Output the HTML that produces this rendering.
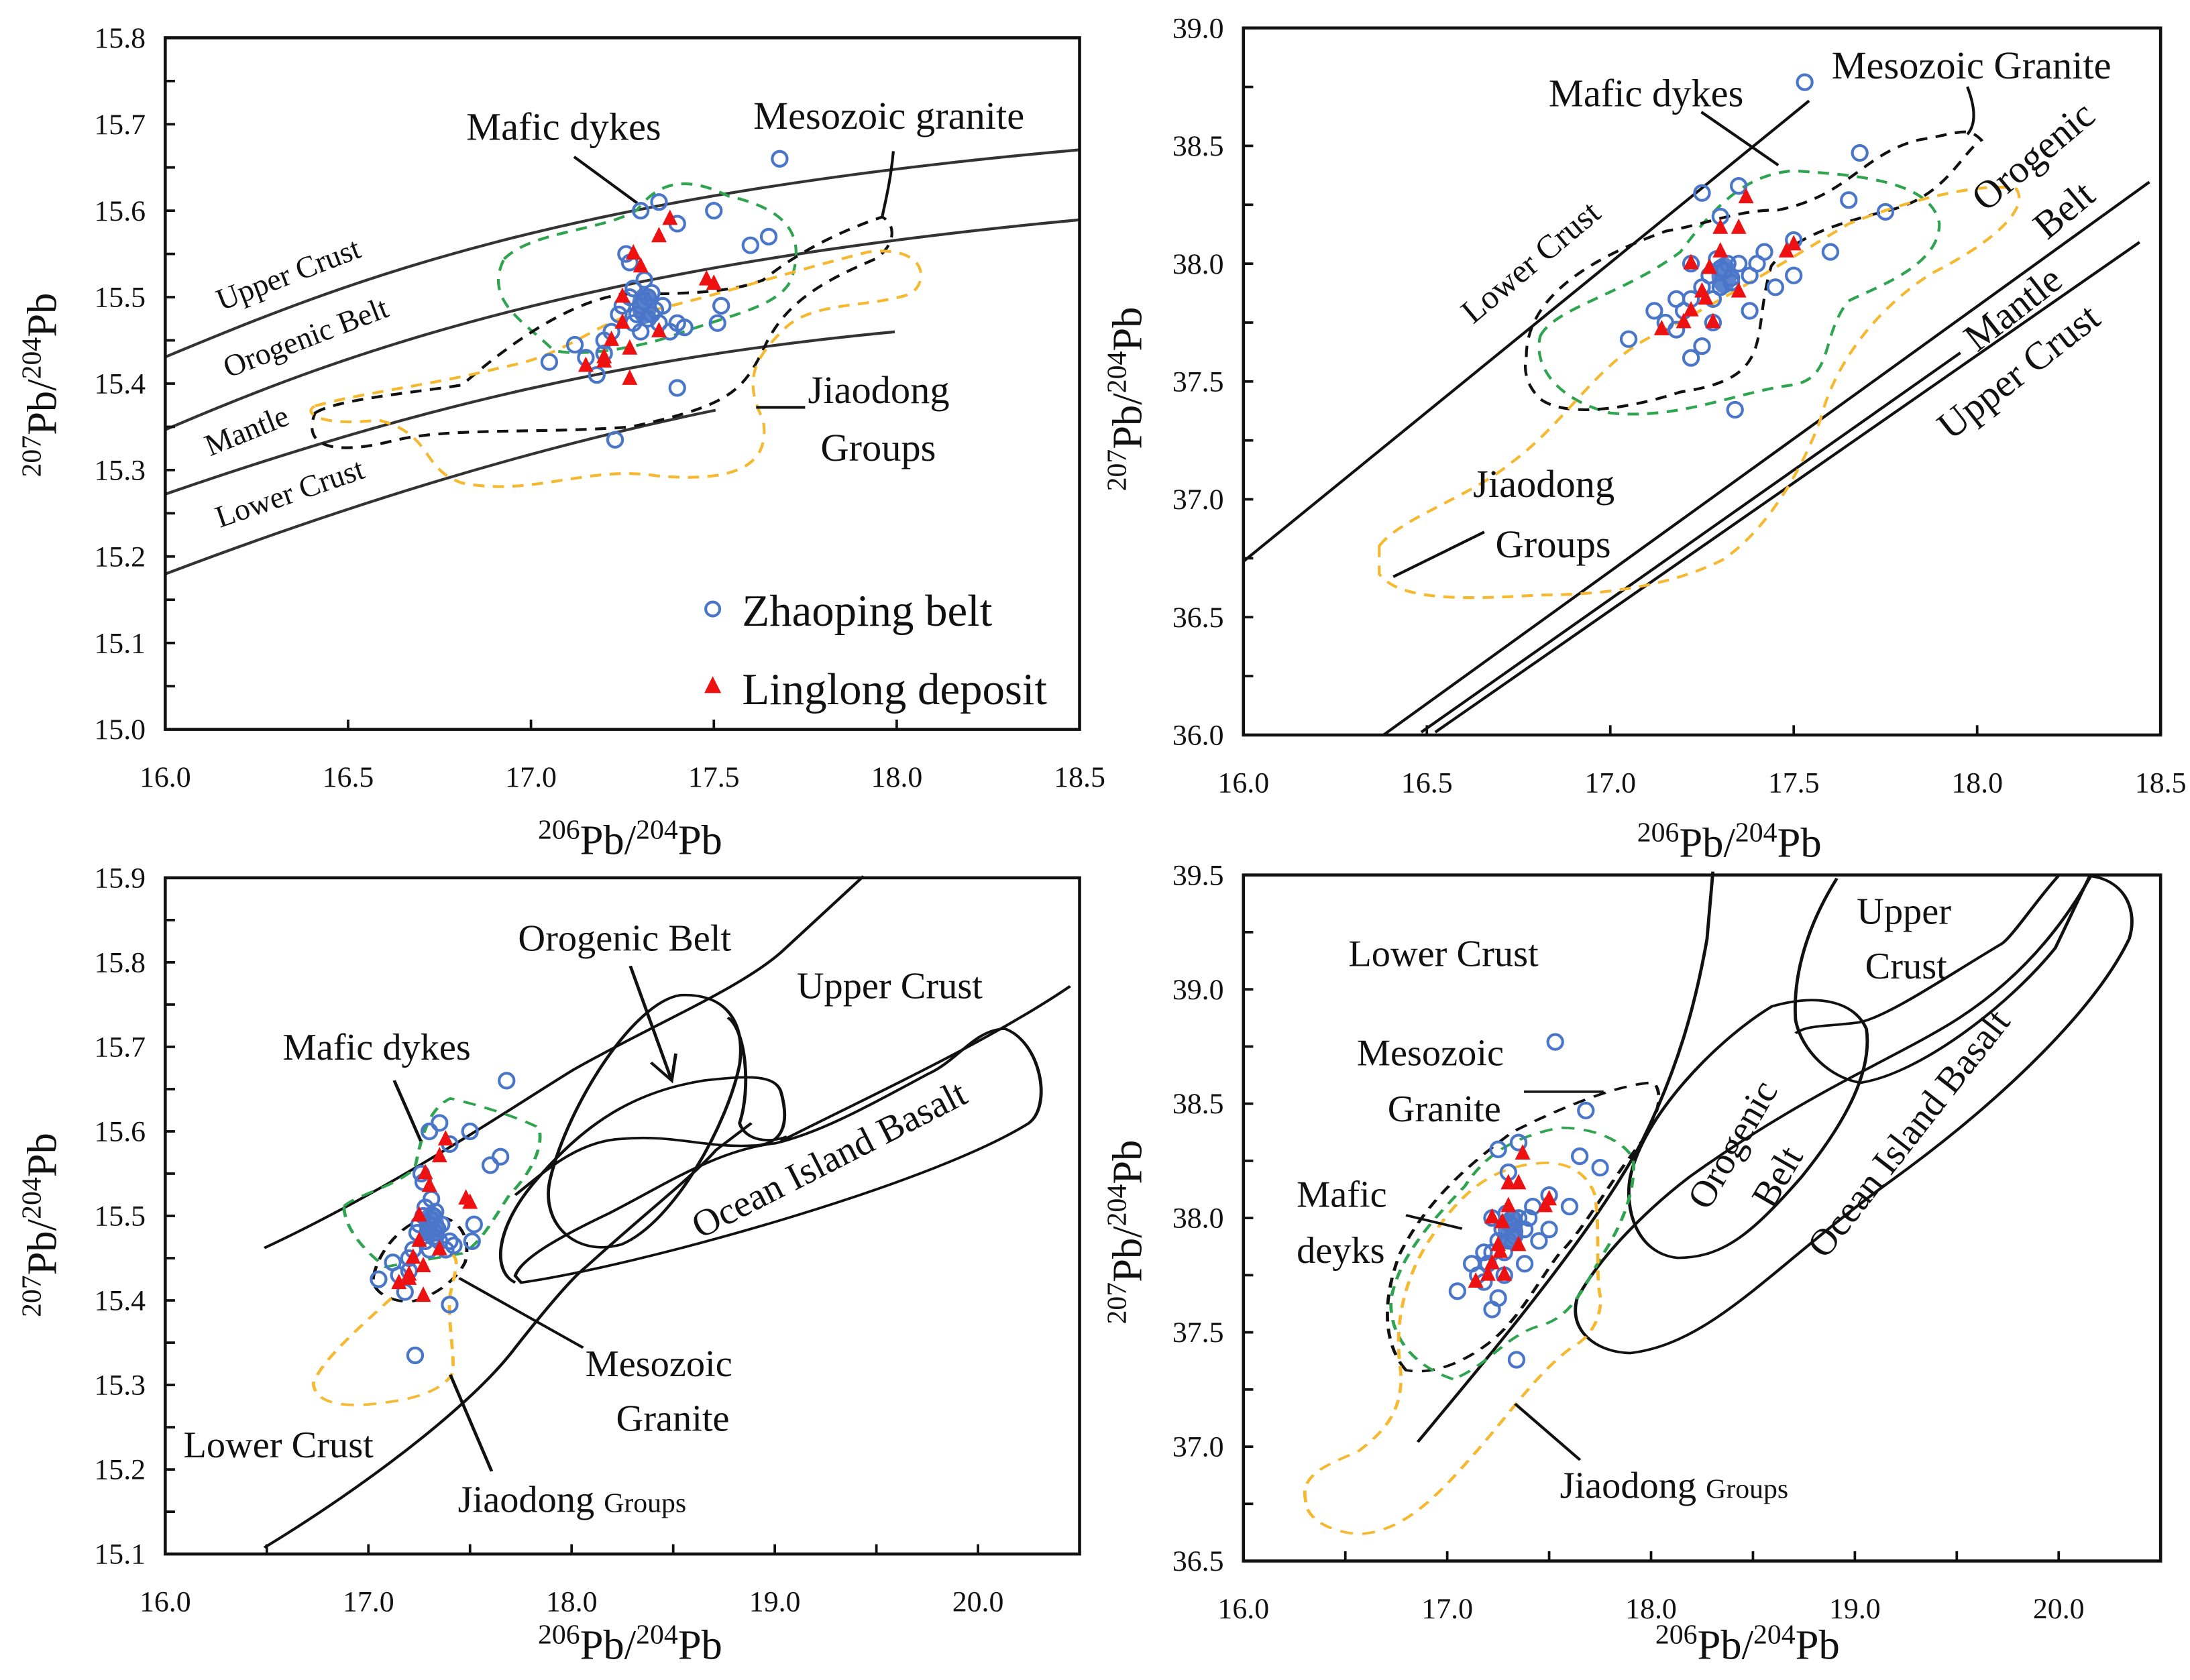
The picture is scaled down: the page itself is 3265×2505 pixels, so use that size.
<!DOCTYPE html>
<html><head><meta charset="utf-8"><style>
html,body{margin:0;padding:0;background:#fff;}
svg{display:block;}
text{font-family:"Liberation Serif","Times New Roman",serif;fill:#111;}
</style></head><body>
<svg id="chart" width="3265" height="2505" viewBox="0 0 1564 1200" preserveAspectRatio="none" xmlns="http://www.w3.org/2000/svg">
<rect width="1564" height="1200" fill="#fff"/>

<!-- Panel 1 reference curves & fields -->
<g fill="none" stroke="#333" stroke-width="2">
 <path d="M118,255 C250,200 400,140 771,107"/>
 <path d="M118,307 C250,250 420,190 771,157"/>
 <path d="M118,353 C300,290 450,255 639,237"/>
 <path d="M118,410 C250,360 380,320 511,293"/>
 <path stroke="#2ea44f" stroke-dasharray="8,6" d="M360,185 C380,165 430,165 455,150 C470,130 490,125 520,140 C565,150 575,170 565,200 C555,220 520,225 480,240 C450,250 410,255 395,250 C375,230 345,215 360,185Z"/>
 <path stroke="#111" stroke-dasharray="8,6" d="M225,295 C240,285 300,280 330,275 C370,240 410,215 445,210 C480,210 520,210 545,200 C570,180 600,165 630,155 C640,160 640,175 625,185 C590,200 560,215 545,250 C530,280 520,290 450,305 C380,310 320,305 280,315 C240,325 215,320 225,295Z"/>
 <path stroke="#f5b82e" stroke-dasharray="8,6" d="M225,290 C260,280 310,275 360,262 C400,255 420,235 450,225 C500,215 560,195 620,180 C660,175 665,200 650,210 C620,220 580,215 560,235 C540,255 530,270 545,300 C550,330 530,345 470,340 C420,332 380,355 330,345 C300,335 310,310 270,300 C230,305 215,295 225,290Z"/>
 <path stroke="#111" d="M410,112 L455,145"/>
 <path stroke="#111" d="M638,108 C636,130 632,145 630,155"/>
 <path stroke="#111" d="M540,291 L575,291"/>
</g>
<g font-size="22">
 <text transform="translate(158,222) rotate(-21)">Upper Crust</text>
 <text transform="translate(163,270) rotate(-21)">Orogenic Belt</text>
 <text transform="translate(150,326) rotate(-22)">Mantle</text>
 <text transform="translate(157,377) rotate(-19)">Lower Crust</text>
 <text x="333" y="100" font-size="28">Mafic dykes</text>
 <text x="538" y="92" font-size="28">Mesozoic granite</text>
 <text x="577" y="288" font-size="28">Jiaodong</text>
 <text x="586" y="329" font-size="28">Groups</text>
 <text x="530" y="447" font-size="32">Zhaoping belt</text>
 <text x="530" y="503" font-size="32">Linglong deposit</text>
</g>

<!-- Panel 2 -->
<g fill="none" stroke="#111" stroke-width="2">
 <path d="M888,401 L1292,72"/>
 <path d="M988,525 L1535,130"/>
 <path d="M1015,523 L1400,252"/>
 <path d="M1025,523 L1528,173"/>
 <path stroke="#2ea44f" stroke-dasharray="8,6" d="M1100,240 C1110,220 1160,210 1200,180 C1230,140 1250,125 1280,122 C1330,125 1380,130 1385,160 C1385,190 1340,205 1320,215 C1300,240 1310,270 1280,275 C1240,280 1200,300 1150,295 C1110,285 1095,260 1100,240Z"/>
 <path stroke-dasharray="8,6" d="M1090,255 C1090,220 1120,190 1190,165 C1220,160 1240,150 1270,150 C1320,140 1330,110 1370,100 C1400,95 1405,90 1415,100 C1400,110 1390,140 1350,150 C1310,160 1280,170 1265,190 C1250,240 1270,270 1200,280 C1170,290 1120,300 1100,285 C1090,275 1088,265 1090,255Z"/>
 <path stroke="#f5b82e" stroke-dasharray="8,6" d="M985,390 C1000,370 1050,355 1080,330 C1120,300 1140,260 1180,240 C1220,220 1270,190 1320,160 C1370,140 1420,130 1440,135 C1450,150 1420,175 1380,195 C1340,220 1310,260 1300,300 C1285,340 1260,380 1230,400 C1190,420 1140,425 1100,425 C1050,428 1000,430 985,410Z"/>
 <path d="M1215,80 L1270,118"/>
 <path d="M1405,62 C1410,75 1412,88 1405,96"/>
 <path d="M995,412 L1060,380"/>
</g>
<g font-size="28">
 <text x="1106" y="76">Mafic dykes</text>
 <text x="1308" y="56">Mesozoic  Granite</text>
 <text font-size="24" transform="translate(1052,232) rotate(-40)">Lower Crust</text>
 <text transform="translate(1418,152) rotate(-40)">Orogenic</text>
 <text transform="translate(1462,172) rotate(-40)">Belt</text>
 <text transform="translate(1412,252) rotate(-38)">Mantle</text>
 <text transform="translate(1393,315) rotate(-38)">Upper Crust</text>
 <text x="1052" y="355">Jiaodong</text>
 <text x="1068" y="398">Groups</text>
</g>

<!-- Panel 3 (zoom coordinates transformed) -->
<g transform="translate(115,622.6) scale(0.4216,0.3208)" fill="none" stroke="#111" stroke-width="5.5">
 <path d="M175,838 C400,700 600,520 700,440 C850,330 980,260 1050,180 L1190,10"/>
 <path d="M175,1505 C320,1390 520,1200 600,1060 C660,960 700,900 720,880 C820,760 900,680 940,620 L1000,560"/>
 <path d="M1540,255 C1400,380 1200,500 1050,600"/>
 <path d="M660,680 C690,520 800,290 880,275 C960,270 990,340 980,430 C960,560 870,780 780,830 C700,860 640,780 660,680Z"/>
 <path d="M600,915 C560,890 565,790 640,680 C720,560 800,490 920,465 C990,455 1040,450 1050,490 C1065,560 1055,610 1000,610 C920,615 870,585 780,595 C700,600 640,680 600,720"/>
 <path d="M960,325 C990,350 1000,480 980,560 C990,600 1030,605 1060,590"/>
 <path d="M610,915 C800,880 1300,700 1470,560 C1510,520 1490,380 1430,350 C1380,350 1350,420 1300,450 C1200,520 1120,580 1040,605 C940,620 850,700 760,760 C680,810 610,860 600,900Z"/>
 <path stroke="#2ea44f" stroke-dasharray="22,16" d="M310,745 C330,720 400,700 430,660 C440,600 450,530 490,505 C540,520 600,545 640,570 C650,620 620,680 590,720 C560,780 540,830 510,850 C470,860 420,870 380,880 C340,840 310,790 310,745Z"/>
 <path stroke-dasharray="22,16" d="M360,900 C370,840 410,780 460,765 C510,770 525,820 515,870 C500,910 460,950 420,958 C380,955 355,930 360,900Z"/>
 <path stroke="#f5b82e" stroke-dasharray="22,16" d="M390,950 C340,1010 270,1090 258,1140 C262,1190 320,1195 390,1180 C450,1170 490,1140 495,1110 C495,1050 485,990 490,940 C500,880 510,850 480,850"/>
 <path d="M395,465 L440,600"/>
 <path d="M505,905 L715,1060"/>
 <path d="M490,1120 L560,1335"/>
 <path d="M795,210 L865,465 M830,425 L865,465 L872,405"/>
</g>
<g font-size="27">
 <text x="370" y="679">Orogenic Belt</text>
 <text x="569" y="713">Upper Crust</text>
 <text x="202" y="757">Mafic dykes</text>
 <text x="418" y="983">Mesozoic</text>
 <text x="440" y="1022">Granite</text>
 <text x="131" y="1041">Lower Crust</text>
 <text x="327" y="1080">Jiaodong <tspan font-size="20">Groups</tspan></text>
 <text transform="translate(500,885) rotate(-27)">Ocean Island Basalt</text>
</g>

<!-- Panel 4 -->
<g transform="translate(886,622.6) scale(0.4216,0.3208)" fill="none" stroke="#111" stroke-width="5.5">
 <path d="M300,1270 C420,1080 600,800 680,600 C740,440 770,300 790,150 L800,0"/>
 <path d="M1010,15 C960,120 935,230 940,330 C950,400 1000,460 1050,470 C1150,450 1300,300 1380,170 L1440,5"/>
 <path d="M1385,10 C1350,60 1310,140 1290,160 C1200,230 1100,320 1050,335 C1000,345 960,340 940,360"/>
 <path d="M660,1072 C600,1070 555,1020 570,950 C620,830 720,720 760,680 C950,500 1100,420 1200,340 C1300,260 1380,150 1440,10 C1500,20 1520,90 1505,150 C1450,300 1300,500 1100,690 C900,880 800,1050 660,1072Z"/>
 <path d="M740,860 C670,850 650,750 660,680 C680,550 800,380 900,300 C980,270 1040,290 1060,350 C1070,440 1030,550 950,680 C870,800 820,860 740,860Z"/>
 <path stroke-dasharray="22,16" d="M280,1110 C240,1050 240,950 270,850 C320,720 400,640 460,580 C550,520 650,470 700,470 C720,500 700,560 680,600 C620,700 580,800 540,850 C500,920 470,1000 420,1050 C370,1100 320,1120 280,1110Z"/>
 <path stroke="#2ea44f" stroke-dasharray="22,16" d="M360,1130 C290,1100 250,1030 255,950 C270,850 330,770 380,700 C420,620 470,590 540,570 C600,570 650,600 665,640 C670,720 640,800 610,860 C580,930 560,990 510,1010 C450,1030 420,1100 360,1130Z"/>
 <path stroke="#f5b82e" stroke-dasharray="22,16" d="M110,1400 C100,1340 150,1320 200,1290 C240,1250 280,1200 270,1100 C260,1000 280,900 320,820 C370,720 420,660 500,650 C560,640 590,680 600,720 C610,800 600,900 610,950 C610,1000 590,1040 560,1060 C500,1120 460,1200 400,1290 C340,1380 280,1470 200,1475 C150,1470 110,1440 110,1400Z"/>
 <path d="M480,490 L615,490"/>
 <path d="M280,765 L375,795"/>
 <path d="M465,1185 L575,1310"/>
</g>
<g font-size="27">
 <text x="963" y="690">Lower Crust</text>
 <text x="1326" y="660">Upper</text>
 <text x="1332" y="699">Crust</text>
 <text x="969" y="761">Mesozoic</text>
 <text x="991" y="801">Granite</text>
 <text x="926" y="862">Mafic</text>
 <text x="926" y="902">deyks</text>
 <text x="1114" y="1070">Jiaodong <tspan font-size="20">Groups</tspan></text>
 <text text-anchor="middle" transform="translate(1245,822) rotate(-60)">Orogenic</text>
 <text text-anchor="middle" transform="translate(1277,845) rotate(-60)">Belt</text>
 <text text-anchor="middle" transform="translate(1370,815) rotate(-52)">Ocean Island Basalt</text>
</g>

<g id="axes"></g>
<g id="marks"></g>
</svg>
<script>
// ---- data ----
const zhaopingX = [17.05,17.12,17.15,17.18,17.20,17.22,17.24,17.25,17.27,17.28,17.30,17.32,17.33,17.35,17.38,17.40,17.42,17.26,17.27,17.30,17.35,17.40,17.50,17.60,17.65,17.68,17.52,17.51,17.40,17.23,17.30,17.20,17.33,17.31,17.36,17.29,17.31,17.34,17.28,17.32];
const zhaoping207 = [15.425,15.445,15.43,15.41,15.435,15.46,15.48,15.49,15.50,15.47,15.49,15.50,15.48,15.47,15.46,15.47,15.465,15.55,15.54,15.60,15.61,15.585,15.60,15.56,15.57,15.66,15.49,15.47,15.395,15.335,15.46,15.45,15.505,15.52,15.49,15.48,15.495,15.485,15.51,15.475];
const zhaopingX8 = [17.05,17.12,17.15,17.18,17.20,17.22,17.22,17.25,17.25,17.27,17.28,17.30,17.32,17.33,17.35,17.38,17.40,17.42,17.25,17.30,17.35,17.50,17.50,17.53,17.60,17.65,17.68,17.75,17.34,17.18,17.28,17.38,17.45,17.30,17.22,17.31,17.33,17.29];
const zhaoping208 = [37.68,37.80,37.75,37.72,37.80,37.85,37.60,37.65,37.90,37.95,37.85,37.98,38.00,37.92,38.00,37.95,38.00,38.05,38.30,38.20,38.33,38.10,37.95,38.77,38.05,38.27,38.47,38.22,37.38,37.85,37.75,37.80,37.90,37.90,38.00,37.97,37.94,38.02];
const linglongX = [17.15,17.20,17.20,17.22,17.25,17.25,17.27,17.28,17.30,17.35,17.38,17.35,17.27,17.48,17.50];
const linglong207 = [15.42,15.425,15.43,15.45,15.50,15.47,15.44,15.55,15.535,15.57,15.59,15.46,15.405,15.52,15.515];
const linglongX8 = [17.14,17.20,17.22,17.25,17.27,17.30,17.30,17.35,17.37,17.35,17.28,17.22,17.48,17.50,17.26];
const linglong208 = [37.72,37.75,37.80,37.88,37.98,38.05,38.15,38.15,38.28,37.88,37.75,38.00,38.05,38.08,37.85];
const xTicksNarrow = ["16.0","16.5","17.0","17.5","18.0","18.5"];
const xTicksWide = ["16.0","17.0","18.0","19.0","20.0"];
const yTicksA = ["15.0","15.1","15.2","15.3","15.4","15.5","15.6","15.7","15.8"];
const yTicksB = ["36.0","36.5","37.0","37.5","38.0","38.5","39.0"];
const yTicksC = ["15.1","15.2","15.3","15.4","15.5","15.6","15.7","15.8","15.9"];
const yTicksD = ["36.5","37.0","37.5","38.0","38.5","39.0","39.5"];

const NS='http://www.w3.org/2000/svg';
const axesG=document.getElementById('axes');
const marksG=document.getElementById('marks');
function mk(tag,attrs,parent){const e=document.createElementNS(NS,tag);for(const k in attrs)e.setAttribute(k,attrs[k]);parent.appendChild(e);return e;}

const panels=[
 {id:'a',x0:16,x1:18.5,px0:118,px1:771,y0:15.0,y1:15.8,py0:521,py1:27,xt:xTicksNarrow,yt:yTicksA,yMinor:0.05,xMinor:0.5,ylx:30,yly:275,xlx:450,xly:610,xs:zhaopingX,ys:zhaoping207,lx:linglongX,ly:linglong207,cy:15.49},
 {id:'b',x0:16,x1:18.5,px0:888,px1:1543,y0:36.0,y1:39.0,py0:525,py1:20,xt:xTicksNarrow,yt:yTicksB,yMinor:0.25,xMinor:0.5,ylx:805,yly:285,xlx:1235,xly:612,xs:zhaopingX8,ys:zhaoping208,lx:linglongX8,ly:linglong208,cy:37.95},
 {id:'c',x0:16,x1:20.5,px0:118,px1:771,y0:15.1,y1:15.9,py0:1110,py1:627,xt:xTicksWide,yt:yTicksC,yMinor:0.05,xMinor:0.5,ylx:30,yly:875,xlx:450,xly:1185,xs:zhaopingX,ys:zhaoping207,lx:linglongX,ly:linglong207,cy:15.49},
 {id:'d',x0:16,x1:20.5,px0:888,px1:1543,y0:36.5,y1:39.5,py0:1115,py1:625,xt:xTicksWide,yt:yTicksD,yMinor:0.25,xMinor:0.5,ylx:805,yly:880,xlx:1248,xly:1185,xs:zhaopingX8,ys:zhaoping208,lx:linglongX8,ly:linglong208,cy:37.95}
];

panels.forEach(p=>{
 const sx=v=>p.px0+(v-p.x0)/(p.x1-p.x0)*(p.px1-p.px0);
 const sy=v=>p.py0+(v-p.y0)/(p.y1-p.y0)*(p.py1-p.py0);
 const frame=mk('rect',{x:p.px0,y:p.py1,width:p.px1-p.px0,height:p.py0-p.py1,fill:'none',stroke:'#111','stroke-width':2.2},axesG);
 
 
 for(let v=p.y0;v<=p.y1+1e-9;v+=p.yMinor){
  const t=mk('line',{x1:p.px0,x2:p.px0+7,y1:sy(v),y2:sy(v),stroke:'#111','stroke-width':1.8},axesG);
  
  
 }
 for(let v=p.x0;v<=p.x1+1e-9;v+=p.xMinor){
  const t=mk('line',{x1:sx(v),x2:sx(v),y1:p.py0,y2:p.py0-7,stroke:'#111','stroke-width':1.8},axesG);
  
  
 }
 p.yt.forEach(s=>{
  const t=mk('text',{x:p.px0-14,y:sy(parseFloat(s))+7,'text-anchor':'end','font-size':21},axesG);
  t.textContent=s;
  
  
 });
 p.xt.forEach(s=>{
  const t=mk('text',{x:sx(parseFloat(s)),y:p.py0+41,'text-anchor':'middle','font-size':21},axesG);
  t.textContent=s;
  
  
 });
 const xt=mk('text',{x:p.xlx,y:p.xly,'text-anchor':'middle','font-size':30},axesG);
 xt.innerHTML='<tspan font-size="20" dy="-11">206</tspan><tspan dy="11">Pb/</tspan><tspan font-size="20" dy="-11">204</tspan><tspan dy="11">Pb</tspan>';
 
 
 const yt=mk('text',{transform:'translate('+(p.ylx+10)+','+p.yly+') rotate(-90)','text-anchor':'middle','font-size':30},axesG);
 yt.innerHTML='<tspan font-size="20" dy="-11">207</tspan><tspan dy="11">Pb/</tspan><tspan font-size="20" dy="-11">204</tspan><tspan dy="11">Pb</tspan>';
 
 
 p.xs.forEach((xv,i)=>{
  const c=mk('circle',{cx:sx(xv),cy:sy(p.ys[i]),r:5.3,fill:'none',stroke:'#4a76c9','stroke-width':2},marksG);
  
  
 });
 const cl=mk('ellipse',{cx:sx(17.31),cy:sy(p.cy),rx:9,ry:13,fill:'#4a76c9',opacity:0.9},marksG);
 
 
 p.lx.forEach((xv,i)=>{
  const X=sx(xv),Y=sy(p.ly[i]);
  const tr=mk('polygon',{points:(X)+','+(Y-7)+' '+(X-5.5)+','+(Y+4)+' '+(X+5.5)+','+(Y+4),fill:'#ee1111'},marksG);
  
  
 });
});
const lc=mk('circle',{cx:509,cy:435,r:5,fill:'none',stroke:'#4a76c9','stroke-width':2},marksG);


const lt=mk('polygon',{points:'509,483 503,495 515,495',fill:'#ee1111'},marksG);


</script>
</body></html>
